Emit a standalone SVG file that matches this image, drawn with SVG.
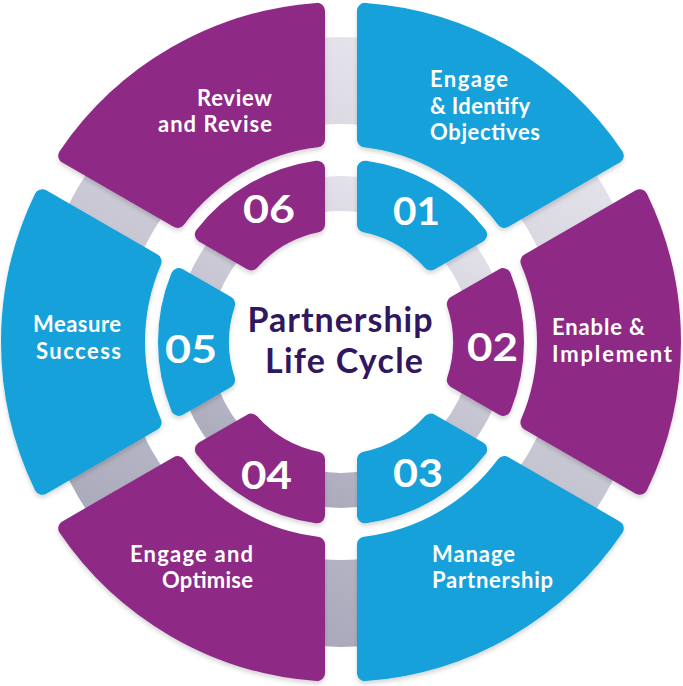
<svg xmlns="http://www.w3.org/2000/svg" xmlns:xlink="http://www.w3.org/1999/xlink" width="683" height="686" viewBox="0 0 683 686">
  <style>
    .blue { fill: #13A1DB; stroke: #13A1DB; stroke-width: 16; stroke-linejoin: round; }
    .purple { fill: #8E2B86; stroke: #8E2B86; stroke-width: 16; stroke-linejoin: round; }
    .lbl { font-family: Lato, "Open Sans", "Liberation Sans", sans-serif; font-weight: 700; font-size: 22px; fill: #ffffff; }
    .num { font-family: Lato, "Open Sans", "Liberation Sans", sans-serif; font-weight: 700; font-size: 38px; fill: #ffffff; text-anchor: middle; }
    .title { font-family: Lato, "Open Sans", "Liberation Sans", sans-serif; font-weight: 700; font-size: 34px; fill: #30175F; text-anchor: middle; }
    .end { text-anchor: end; }
  </style>
  <defs>
    <linearGradient id="ringGrad" x1="0.75" y1="0" x2="0.25" y2="1">
      <stop offset="0" stop-color="#e6e5ec"/>
      <stop offset="1" stop-color="#a9a8ba"/>
    </linearGradient>
    <filter id="shadow" x="-10%" y="-10%" width="120%" height="125%">
      <feDropShadow dx="0" dy="3" stdDeviation="2" flood-color="#000000" flood-opacity="0.16"/>
    </filter>
    <path id="outerSeg" d="M 365,10.87 A 332 332 0 0 1 615.76,155.65 L 504.44,219.93 A 204 204 0 0 0 365,139.42 Z"/>
    <path id="innerSeg" d="M 365,168.65 A 175 175 0 0 1 479.12,234.54 L 430.82,262.43 A 120 120 0 0 0 365,224.42 Z"/>
  </defs>

  <g id="ring">
    <circle cx="341" cy="342" r="261.5" fill="none" stroke="url(#ringGrad)" stroke-width="87"/>
    <circle cx="341" cy="342" r="148.5" fill="none" stroke="url(#ringGrad)" stroke-width="35"/>
  </g>

  <g id="connectors"></g>

  <g id="step-01">
    <g filter="url(#shadow)">
      <use xlink:href="#outerSeg" class="blue"/>
      <use xlink:href="#innerSeg" class="blue"/>
    </g>
    <text class="num" x="416.5" y="225" textLength="47" lengthAdjust="spacingAndGlyphs">01</text>
    <text class="lbl" x="430" y="87" textLength="78">Engage</text>
    <text class="lbl" x="430" y="113.5" textLength="100">&amp; Identify</text>
    <text class="lbl" x="430" y="140" textLength="110">Objectives</text>
  </g>

  <g id="step-02">
    <g filter="url(#shadow)">
      <use xlink:href="#outerSeg" class="purple" transform="rotate(60 341 342)"/>
      <use xlink:href="#innerSeg" class="purple" transform="rotate(60 341 342)"/>
    </g>
    <text class="num" x="492.5" y="361" textLength="51" lengthAdjust="spacingAndGlyphs">02</text>
    <text class="lbl" x="552" y="335" textLength="93">Enable &amp;</text>
    <text class="lbl" x="552" y="361.5" textLength="120">Implement</text>
  </g>

  <g id="step-03">
    <g filter="url(#shadow)">
      <use xlink:href="#outerSeg" class="blue" transform="rotate(120 341 342)"/>
      <use xlink:href="#innerSeg" class="blue" transform="rotate(120 341 342)"/>
    </g>
    <text class="num" x="418" y="487" textLength="50" lengthAdjust="spacingAndGlyphs">03</text>
    <text class="lbl" x="432" y="562" textLength="83">Manage</text>
    <text class="lbl" x="432" y="588" textLength="121">Partnership</text>
  </g>

  <g id="step-04">
    <g filter="url(#shadow)">
      <use xlink:href="#outerSeg" class="purple" transform="rotate(180 341 342)"/>
      <use xlink:href="#innerSeg" class="purple" transform="rotate(180 341 342)"/>
    </g>
    <text class="num" x="266.5" y="489" textLength="51" lengthAdjust="spacingAndGlyphs">04</text>
    <text class="lbl end" x="253" y="562" textLength="123">Engage and</text>
    <text class="lbl end" x="253" y="588" textLength="91">Optimise</text>
  </g>

  <g id="step-05">
    <g filter="url(#shadow)">
      <use xlink:href="#outerSeg" class="blue" transform="rotate(240 341 342)"/>
      <use xlink:href="#innerSeg" class="blue" transform="rotate(240 341 342)"/>
    </g>
    <text class="num" x="191" y="363" textLength="52" lengthAdjust="spacingAndGlyphs">05</text>
    <text class="lbl end" x="121" y="332" textLength="88">Measure</text>
    <text class="lbl end" x="121" y="358.5" textLength="85">Success</text>
  </g>

  <g id="step-06">
    <g filter="url(#shadow)">
      <use xlink:href="#outerSeg" class="purple" transform="rotate(300 341 342)"/>
      <use xlink:href="#innerSeg" class="purple" transform="rotate(300 341 342)"/>
    </g>
    <text class="num" x="269" y="223" textLength="52" lengthAdjust="spacingAndGlyphs">06</text>
    <text class="lbl end" x="272" y="105.5" textLength="75">Review</text>
    <text class="lbl end" x="272" y="131.5" textLength="114">and Revise</text>
  </g>

  <g id="center-title">
    <text class="title" x="340" y="332" textLength="185">Partnership</text>
    <text class="title" x="344" y="373" textLength="158">Life Cycle</text>
  </g>
</svg>
